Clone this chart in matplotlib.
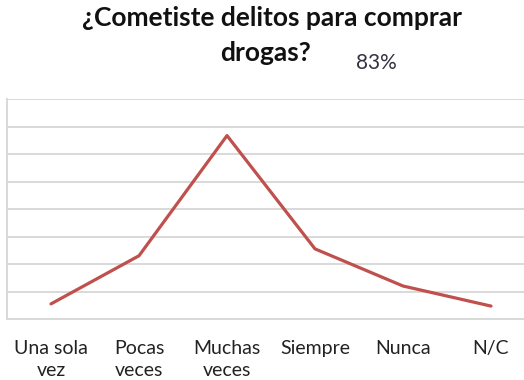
import matplotlib.pyplot as plt

categories = ["Una sola\nvez", "Pocas\nveces", "Muchas\nveces", "Siempre", "Nunca", "N/C"]
values = [5.5, 23, 66.7, 25.5, 12, 4.7]
y_ticks = [0, 10, 20, 30, 40, 50, 60, 70, 80]

plt.rcParams["font.family"] = ["Lato", "DejaVu Sans"]

fig = plt.figure(figsize=(5.24, 3.8), dpi=100)
ax = fig.add_axes([7 / 524, 61 / 380, 528 / 524, 220 / 380])

x = list(range(len(categories)))
ax.plot(x, values, color="#C0504D", linewidth=2.3, solid_capstyle="round")

ax.set_xlim(-0.5, len(categories) - 0.5)
ax.set_ylim(0, 80)
ax.set_yticks(y_ticks)
ax.set_yticklabels([])
ax.set_xticks(x)
ax.set_xticklabels(categories, fontsize=14, color="#222222", linespacing=1.4)
ax.tick_params(length=0, pad=15)
ax.grid(axis="y", color="#D9D9D9", linewidth=1.4)
ax.set_axisbelow(True)
for side in ["top", "right"]:
    ax.spines[side].set_visible(False)
for side in ["left", "bottom"]:
    ax.spines[side].set_color("#D9D9D9")
    ax.spines[side].set_linewidth(1.4)

fig.text(0.52, 0.952, "¿Cometiste delitos para comprar", ha="center", va="center",
         fontsize=19, fontweight="bold", color="#111111")
fig.text(0.506, 0.86, "drogas?", ha="center", va="center",
         fontsize=19, fontweight="bold", color="#111111")
fig.text(0.718, 0.835, "83%", ha="center", va="center", fontsize=15, color="#333344")

fig.savefig("out.png", dpi=100)
